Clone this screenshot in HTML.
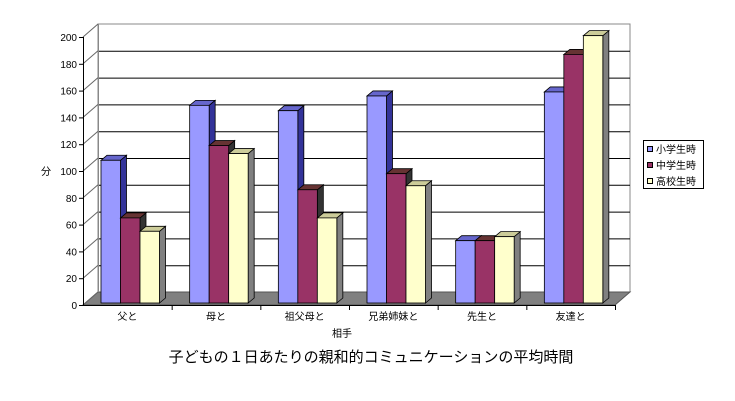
<!DOCTYPE html>
<html><head><meta charset="utf-8"><style>
body{margin:0;background:#fff;}
svg{display:block;font-family:"Liberation Sans","Noto Sans CJK JP",sans-serif;}
</style></head><body>
<svg id="c" width="735" height="401" viewBox="0 0 735 401" xmlns="http://www.w3.org/2000/svg">
<g id="grid"></g>
<g id="axis"></g>
<g id="bars"></g>
<g id="xl"></g>
<text x="46" y="175" font-size="10" text-anchor="middle">分</text>
<text x="342" y="337" font-size="10" text-anchor="middle">相手</text>
<text x="371" y="362" font-size="15" text-anchor="middle">子どもの１日あたりの親和的コミュニケーションの平均時間</text>
<g>
<rect x="643.5" y="140.5" width="60" height="48" fill="#fff" stroke="#000"/>
<g><rect x="647.5" y="146.5" width="5" height="5" fill="#9999ff" stroke="#000"/><text x="656" y="153" font-size="10">小学生時</text></g>
<g><rect x="647.5" y="162.5" width="5" height="5" fill="#993366" stroke="#000"/><text x="656" y="169" font-size="10">中学生時</text></g>
<g><rect x="647.5" y="178.5" width="5" height="5" fill="#ffffcc" stroke="#000"/><text x="656" y="185" font-size="10">高校生時</text></g>
</g>
</svg>
<script>
const categories=["父と","母と","祖父母と","兄弟姉妹と","先生と","友達と"];
const elementary=[108,149,145,156,48,159];
const junior=[65,119,86,98,48,187];
const high=[55,113,65,89,51,201];
const yTicks=[0,20,40,60,80,100,120,140,160,180,200];
const NS="http://www.w3.org/2000/svg";
function el(tag,attrs,parent){const e=document.createElementNS(NS,tag);for(const k in attrs)e.setAttribute(k,attrs[k]);parent.appendChild(e);return e;}
const X0=83,X1=615,Y0=305,Ymax=200,PX=(305-37)/200,DX=15,DY=-13;
function y(v){return Y0-v*PX;}
const cw=(X1-X0)/categories.length;
function cx(i){return X0+cw*i;}
const grid=document.getElementById('grid'),axis=document.getElementById('axis'),bars=document.getElementById('bars'),xl=document.getElementById('xl');
// back wall
let w=el('rect',{x:X0+DX,y:y(Ymax)+DY,width:X1-X0,height:Ymax*PX,fill:'#fff',stroke:'#888'},grid);

// floor
let f=el('polygon',{points:`${X0},${Y0} ${X1},${Y0} ${X1+DX},${Y0+DY} ${X0+DX},${Y0+DY}`,fill:'#808080',stroke:'#555'},grid);

yTicks.forEach(t=>{
  if(t>0&&t<Ymax){const g=el('line',{x1:X0+DX,x2:X1+DX,y1:y(t)+DY+.5,y2:y(t)+DY+.5,stroke:'#000'},grid);
  }
  const d=el('line',{x1:X0,y1:y(t),x2:X0+DX,y2:y(t)+DY,stroke:'#666'},axis);
  
  const tk=el('line',{x1:X0-4,x2:X0,y1:y(t)+.5,y2:y(t)+.5,stroke:'#000'},axis);
  
  const tx=el('text',{x:X0-6,y:y(t)+4,'font-size':10,'text-anchor':'end'},axis);tx.textContent=t;
  
});
el('line',{x1:X0+.5,x2:X0+.5,y1:Y0,y2:y(Ymax),stroke:'#000'},axis);
el('line',{x1:X0+DX+.5,x2:X0+DX+.5,y1:Y0+DY,y2:y(Ymax)+DY,stroke:'#888'},axis);
el('line',{x1:X0,x2:X1,y1:Y0+.5,y2:Y0+.5,stroke:'#000'},xl);
const series=[[elementary,'#9999ff','#333399','#6666cc'],[junior,'#993366','#333333','#663333'],[high,'#ffffcc','#808080','#cccc99']];
const bw=19.5,sd=6,sh=-5;
categories.forEach((c,i)=>{
  const tk=el('line',{x1:cx(i+1)+.5,x2:cx(i+1)+.5,y1:Y0,y2:Y0+5,stroke:'#000'},xl);
  
  const t=el('text',{x:cx(i)+cw/2,y:Y0+15,'font-size':10,'text-anchor':'middle'},xl);t.textContent=c;
  
  series.forEach((s,k)=>{
    const v=s[0][i],x=cx(i)+18+k*bw,top=y(v),bot=Y0-2;
    const g=el('g',{},bars);
    
    el('polygon',{points:`${x+bw},${bot} ${x+bw+sd},${bot+sh} ${x+bw+sd},${top+sh} ${x+bw},${top}`,fill:s[2],stroke:'#000','stroke-width':.8},g);
    el('polygon',{points:`${x},${top} ${x+sd},${top+sh} ${x+bw+sd},${top+sh} ${x+bw},${top}`,fill:s[3],stroke:'#000','stroke-width':.8},g);
    el('rect',{x:x,y:top,width:bw,height:bot-top,fill:s[1],stroke:'#000','stroke-width':.8},g);
  });
});
</script>
</body></html>
